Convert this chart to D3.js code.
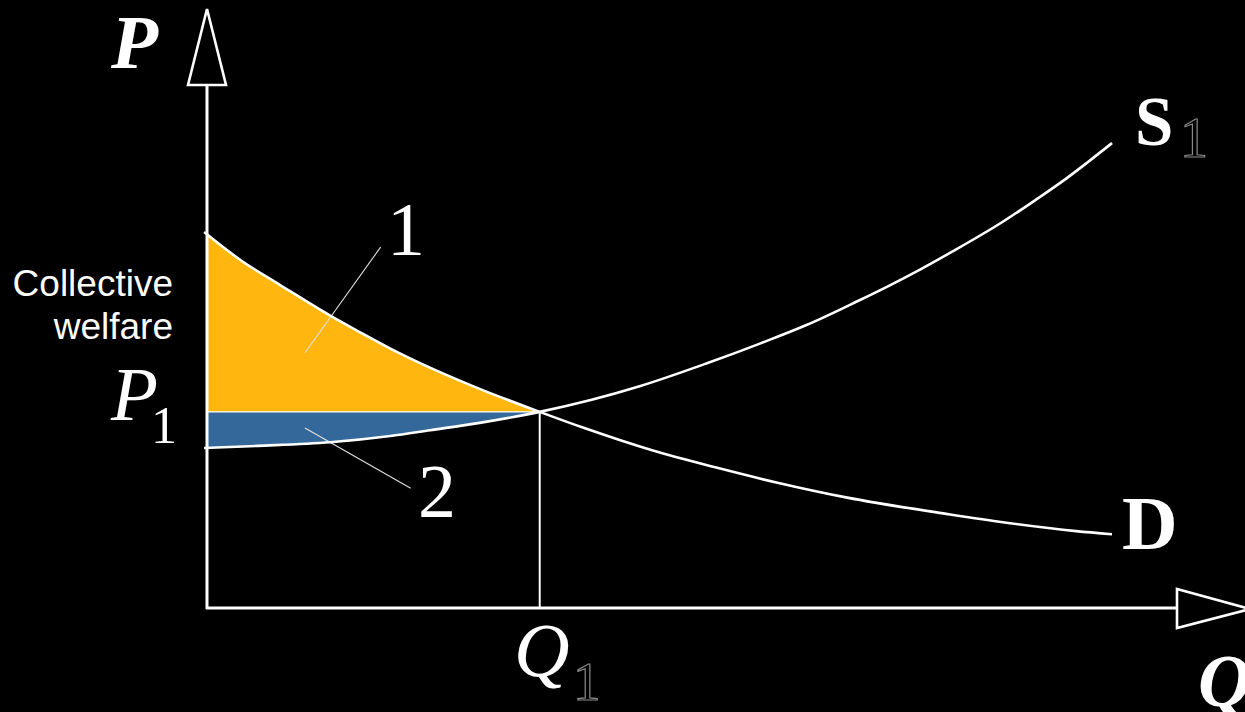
<!DOCTYPE html>
<html>
<head>
<meta charset="utf-8">
<script src="https://cdn.jsdelivr.net/npm/d3@7"></script>
<style>
  html, body { margin: 0; padding: 0; background: #000; }
  svg { display: block; }
</style>
</head>
<body>
<svg id="chart" width="1245" height="712"></svg>
<script>
// ---- Data (arbitrary economic units: Q on x, P on y) ----
const demandQ = [-0.3, 3.7, 7.5, 12.7, 15.5, 18.9, 21.2, 28.1, 34.3, 38.9, 45.8, 52.6, 58.7, 66.0, 76.2, 82.4, 89.6, 93.3];
const demandP = [71.9, 66.2, 61.8, 55.9, 53.0, 49.6, 47.5, 41.9, 37.5, 34.4, 30.2, 26.8, 24.0, 21.1, 18.0, 16.3, 14.7, 14.1];
const supplyQ = [-0.3, 5.2, 12.7, 18.9, 23.0, 28.1, 34.3, 44.6, 51.4, 57.2, 61.8, 67.1, 70.5, 73.6, 76.6, 82.0, 85.4, 88.5, 90.7, 93.3];
const supplyP = [30.6, 31.0, 31.7, 32.9, 34.0, 35.4, 37.5, 42.4, 46.7, 50.7, 54.1, 58.7, 61.8, 64.8, 67.9, 73.8, 78.0, 82.0, 85.1, 88.9];
const equilibriumQ = 34.3;   // Q1
const equilibriumP = 37.5;   // P1
const areaLabels = ["1", "2"];
const calloutFrom = [[10.1, 48.8], [10.1, 34.4]];
const calloutTo   = [[17.9, 69.0], [21.0, 22.9]];
const sideLabel = ["Collective", "welfare"];

const svg = d3.select("#chart");
const W = 1245, H = 712;
svg.append("rect").attr("width", W).attr("height", H).attr("fill", "#000");

const x = d3.scaleLinear().domain([0, 100]).range([207, 1177]);
const y = d3.scaleLinear().domain([0, 100]).range([608, 85]);

const demand = demandQ.map((q, i) => ({ q, p: demandP[i] }));
const supply = supplyQ.map((q, i) => ({ q, p: supplyP[i] }));

const curve = d3.curveMonotoneX;

// clip for welfare areas
svg.append("clipPath").attr("id", "welfareClip")
  .append("rect")
  .attr("x", x(0)).attr("y", 0)
  .attr("width", x(equilibriumQ) - x(0)).attr("height", H);

const areaGen = d3.area()
  .x(d => x(d.q))
  .y0(y(equilibriumP))
  .y1(d => y(d.p))
  .curve(curve);

svg.append("path")
  .datum(demand.filter(d => d.q <= equilibriumQ))
  .attr("d", areaGen)
  .attr("fill", "#ffb70f")
  .attr("clip-path", "url(#welfareClip)");

svg.append("path")
  .datum(supply.filter(d => d.q <= equilibriumQ))
  .attr("d", areaGen)
  .attr("fill", "#34689a")
  .attr("clip-path", "url(#welfareClip)");

// P1 horizontal line
svg.append("line")
  .attr("x1", x(0)).attr("x2", x(equilibriumQ))
  .attr("y1", y(equilibriumP)).attr("y2", y(equilibriumP))
  .attr("stroke", "#fff").attr("stroke-width", 1.2);

// Q1 vertical line
svg.append("line")
  .attr("x1", x(equilibriumQ)).attr("x2", x(equilibriumQ))
  .attr("y1", y(equilibriumP)).attr("y2", y(0))
  .attr("stroke", "#fff").attr("stroke-width", 2);

// callout lines
calloutFrom.forEach((f, i) => {
  svg.append("line")
    .attr("x1", x(f[0])).attr("y1", y(f[1]))
    .attr("x2", x(calloutTo[i][0])).attr("y2", y(calloutTo[i][1]))
    .attr("stroke", "#e0e0e0").attr("stroke-width", 1.1);
});

// curves
const lineGen = d3.line().x(d => x(d.q)).y(d => y(d.p)).curve(curve);
[demand, supply].forEach(data => {
  svg.append("path").datum(data).attr("d", lineGen)
    .attr("fill", "none").attr("stroke", "#fff").attr("stroke-width", 2.6)
    .attr("stroke-linecap", "butt");
});

// axes
svg.append("line")
  .attr("x1", x(0)).attr("x2", x(0)).attr("y1", y(0) + 1).attr("y2", y(100))
  .attr("stroke", "#fff").attr("stroke-width", 3);
svg.append("line")
  .attr("x1", x(0) - 1).attr("x2", x(100)).attr("y1", y(0)).attr("y2", y(0))
  .attr("stroke", "#fff").attr("stroke-width", 3);

// arrowheads
svg.append("path")
  .attr("d", `M${x(0) - 19},${y(100)} L${x(0)},9 L${x(0) + 19},${y(100)} Z`)
  .attr("fill", "#000").attr("stroke", "#fff").attr("stroke-width", 2.6)
  .attr("stroke-linejoin", "miter");
svg.append("path")
  .attr("d", `M${x(100)},${y(0) - 19} L1250,${y(0) + 1} L${x(100)},${y(0) + 20} Z`)
  .attr("fill", "#000").attr("stroke", "#fff").attr("stroke-width", 2.6);

// text labels
const serif = "'Liberation Serif', 'Times New Roman', serif";
const sans = "'Liberation Sans', Arial, Helvetica, sans-serif";

function txt(t, px, py, size, opts = {}) {
  return svg.append("text").attr("x", px).attr("y", py)
    .attr("font-family", opts.family || serif)
    .attr("font-size", size)
    .attr("font-weight", opts.weight || "normal")
    .attr("font-style", opts.style || "normal")
    .attr("text-anchor", opts.anchor || "start")
    .attr("fill", opts.fill || "#fff")
    .attr("stroke", opts.stroke || "none")
    .attr("stroke-width", opts.sw || 0)
    .text(t);
}

txt("P", 111, 68, 77, { weight: "bold", style: "italic" });
txt("Q", 1198, 706, 74, { weight: "bold", style: "italic" });

txt("S", 1135, 145, 69, { weight: "bold" });
txt("1", 1180, 157, 56, { fill: "none", stroke: "#8a8a8a", sw: 1.2 });

txt("D", 1122, 549, 77, { weight: "bold" });

txt("P", 111, 420, 77, { style: "italic" });
txt("1", 151, 443, 52);

txt("Q", 514, 676, 77, { style: "italic" });
txt("1", 573, 700, 55, { fill: "none", stroke: "#8a8a8a", sw: 1.2 });

txt(areaLabels[0], 406, 255, 76, { anchor: "middle" });
txt(areaLabels[1], 437, 517, 76, { anchor: "middle" });

txt(sideLabel[0], 173, 296, 37, { family: sans, anchor: "end" });
txt(sideLabel[1], 173, 339, 37, { family: sans, anchor: "end" });
</script>
</body>
</html>
